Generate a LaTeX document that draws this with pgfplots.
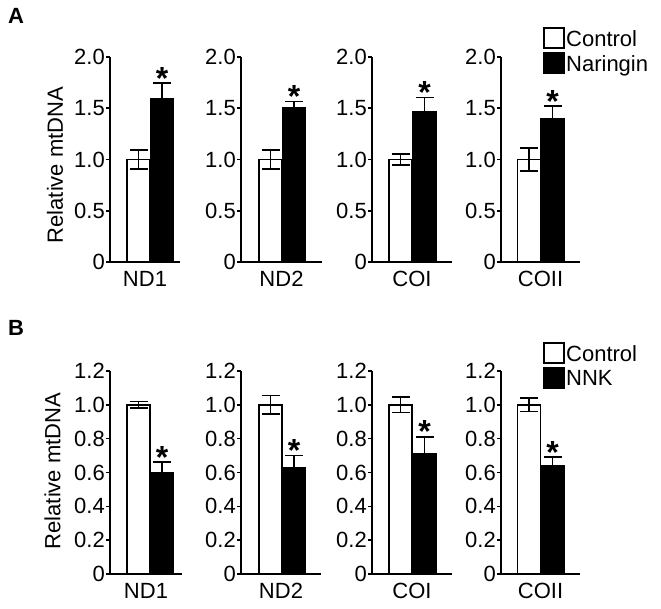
\documentclass[border=0pt]{standalone}
\usepackage{fontspec}
\setmainfont{Liberation Sans}
\usepackage{pgfplots}
\pgfplotsset{compat=1.18}
\newcommand\fs{\fontsize{22}{24}\selectfont}
\newcommand\sigstar{\fontsize{32}{32}\selectfont\bfseries *}
\pgfplotsset{
  base/.style={
    scale only axis, xmin=0, ymin=0,
    axis x line*=bottom, axis y line*=left,
    axis line style={line width=1.6pt, -},
    xtick=\empty,
    major tick length=4pt, tick align=outside,
    ytick style={line width=1.6pt, black},
    yticklabel style={font=\fs, inner sep=1pt},
    xlabel style={font=\fs, at={(axis description cs:0.5,0)}, anchor=north, yshift=-9pt, inner sep=0pt},
    ylabel style={font=\fs},
    /pgf/number format/assume math mode=true,
    clip=false,
  },
  toprow/.style={base, height=205pt, ymax=2.0, ytick={0,0.5,1,1.5,2}, yticklabels={0,0.5,1.0,1.5,2.0}},
  botrow/.style={base, height=203pt, ymax=1.2, ytick={0,0.2,0.4,0.6,0.8,1.0,1.2}, yticklabels={0,0.2,0.4,0.6,0.8,1.0,1.2}},
  legbox/.style={legend image code/.code={\draw[##1, line width=1.6pt] (0pt,-9pt) rectangle (20pt,11pt);}},
  errs/.style={
    error bars/y explicit,
    error bars/error bar style={line width=1.8pt, black},
    error bars/error mark options={rotate=90, mark size=9pt, line width=1.8pt, black}},
  cbar/.style={ybar, bar width=23, bar shift=0pt, fill=white, draw=black, line width=1.6pt,
    errs, error bars/y dir=both},
  tbar/.style={ybar, bar width=23, bar shift=0pt, fill=black, draw=black, line width=1.6pt,
    errs, error bars/y dir=plus},
  stars/.style={forget plot, draw=none, mark=none, nodes near coords={\sigstar},
    every node near coord/.append style={anchor=base, yshift=-6pt, inner sep=0pt}},
}
\begin{document}
\begin{tikzpicture}
\path[use as bounding box] (0pt,0pt) rectangle (661pt,608pt);
\node[font=\fontsize{22}{24}\selectfont\bfseries] at (16pt,592pt) {A};
\node[font=\fontsize{22}{24}\selectfont\bfseries] at (16pt,280pt) {B};

% ---------- Row A ----------
\begin{axis}[toprow, at={(110pt,346pt)}, anchor=south west, width=70pt, xmax=70,
  xlabel={ND1}, ylabel={Relative mtDNA},
  ylabel style={at={(rel axis cs:-0.786,0.473)}, anchor=center}]
\addplot[cbar] coordinates {(28.5,1.00) +- (0,0.09)};
\addplot[tbar] coordinates {(52,1.59) +- (0,0.155)};
\addplot[stars] coordinates {(52,1.745)};
\end{axis}
\begin{axis}[toprow, at={(241pt,346pt)}, anchor=south west, width=81pt, xmax=81, xlabel={ND2}]
\addplot[cbar] coordinates {(29.5,1.00) +- (0,0.09)};
\addplot[tbar] coordinates {(53,1.50) +- (0,0.065)};
\addplot[stars] coordinates {(53,1.565)};
\end{axis}
\begin{axis}[toprow, at={(372pt,346pt)}, anchor=south west, width=80pt, xmax=80, xlabel={COI}]
\addplot[cbar] coordinates {(28.5,1.00) +- (0,0.05)};
\addplot[tbar] coordinates {(52.5,1.47) +- (0,0.135)};
\addplot[stars] coordinates {(52.5,1.605)};
\end{axis}
\begin{axis}[toprow, at={(501pt,346pt)}, anchor=south west, width=79pt, xmax=79, xlabel={COII},
  legend style={at={(rel axis cs:0.53,1.145)}, anchor=north west, draw=none, fill=none,
    inner sep=0pt, row sep=3pt, font=\fs, nodes={inner sep=1.5pt}}, legend cell align=left]
\addplot[cbar, legbox] coordinates {(28,1.00) +- (0,0.115)};
\addplot[tbar, legbox] coordinates {(51.5,1.40) +- (0,0.12)};
\addplot[stars] coordinates {(51.5,1.52)};
\legend{Control,Naringin}
\end{axis}

% ---------- Row B ----------
\begin{axis}[botrow, at={(110pt,34pt)}, anchor=south west, width=72pt, xmax=72,
  xlabel={ND1}, ylabel={Relative mtDNA},
  ylabel style={at={(rel axis cs:-0.80,0.507)}, anchor=center}]
\addplot[cbar] coordinates {(28.5,1.00) +- (0,0.02)};
\addplot[tbar] coordinates {(52,0.60) +- (0,0.06)};
\addplot[stars] coordinates {(52,0.66)};
\end{axis}
\begin{axis}[botrow, at={(241pt,34pt)}, anchor=south west, width=80pt, xmax=80, xlabel={ND2}]
\addplot[cbar] coordinates {(29.5,1.00) +- (0,0.055)};
\addplot[tbar] coordinates {(53,0.63) +- (0,0.07)};
\addplot[stars] coordinates {(53,0.70)};
\end{axis}
\begin{axis}[botrow, at={(372pt,34pt)}, anchor=south west, width=80pt, xmax=80, xlabel={COI}]
\addplot[cbar] coordinates {(28.5,1.00) +- (0,0.045)};
\addplot[tbar] coordinates {(52.5,0.71) +- (0,0.10)};
\addplot[stars] coordinates {(52.5,0.81)};
\end{axis}
\begin{axis}[botrow, at={(501pt,34pt)}, anchor=south west, width=79pt, xmax=79, xlabel={COII},
  legend style={at={(rel axis cs:0.53,1.143)}, anchor=north west, draw=none, fill=none,
    inner sep=0pt, row sep=3pt, font=\fs, nodes={inner sep=1.5pt}}, legend cell align=left]
\addplot[cbar, legbox] coordinates {(28,1.00) +- (0,0.04)};
\addplot[tbar, legbox] coordinates {(51.5,0.64) +- (0,0.05)};
\addplot[stars] coordinates {(51.5,0.69)};
\legend{Control,NNK}
\end{axis}
\end{tikzpicture}
\end{document}
